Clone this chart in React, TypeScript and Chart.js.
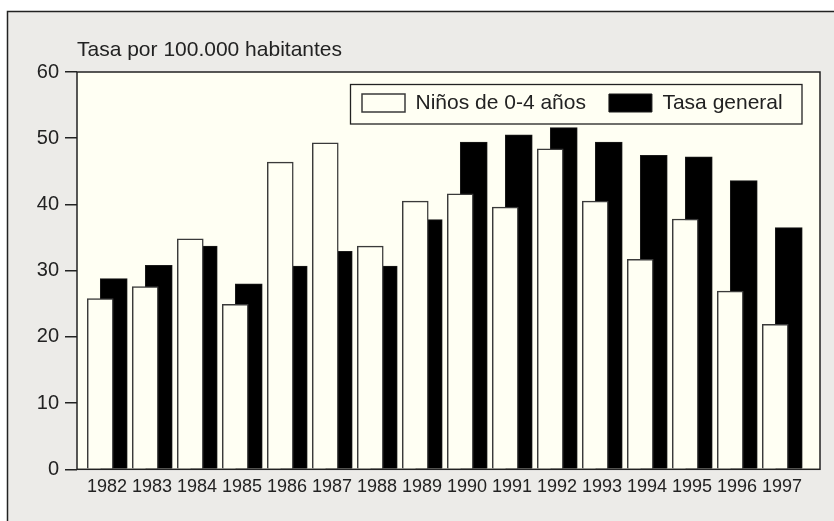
import React, { useEffect, useRef } from "react";
import { Chart, registerables } from "chart.js";

Chart.register(...registerables);

const years = ["1982", "1983", "1984", "1985", "1986", "1987", "1988", "1989", "1990", "1991", "1992", "1993", "1994", "1995", "1996", "1997"];
const ninos = [25.8, 27.6, 34.8, 24.9, 46.4, 49.3, 33.7, 40.5, 41.6, 39.6, 48.4, 40.5, 31.7, 37.8, 26.9, 21.9];
const tasaGeneral = [28.8, 30.8, 33.7, 28.0, 30.7, 32.9, 30.7, 37.7, 49.4, 50.5, 51.6, 49.4, 47.4, 47.2, 43.6, 36.5];
const yTicks = [0, 10, 20, 30, 40, 50, 60];
const titleText = "Tasa por 100.000 habitantes";
const seriesLabels = ["Niños de 0-4 años", "Tasa general"];

const FONT = "'Liberation Sans', Arial, Helvetica, sans-serif";
const TEXT = "#222222";
const FRAME_BG = "#ECEBE8";
const PLOT_BG = "#FFFFF3";

const backgroundPlugin = {
  id: "bgFrame",
  beforeDraw(chart: any) {
    const { ctx, width, height, chartArea } = chart;
    ctx.save();
    ctx.fillStyle = "#ffffff";
    ctx.fillRect(0, 0, width, height);
    ctx.fillStyle = FRAME_BG;
    ctx.fillRect(7.5, 11.5, width, height);
    ctx.strokeStyle = "#222";
    ctx.lineWidth = 1.5;
    ctx.beginPath();
    ctx.moveTo(7.5, height + 2);
    ctx.lineTo(7.5, 11.5);
    ctx.lineTo(width + 2, 11.5);
    ctx.stroke();
    ctx.fillStyle = PLOT_BG;
    ctx.fillRect(chartArea.left, chartArea.top, chartArea.right - chartArea.left, chartArea.bottom - chartArea.top);
    ctx.restore();
  },
  afterLayout(chart: any) {
    const lg = chart.legend;
    if (!lg) return;
    const pad = lg.options.labels.padding;
    lg.left = 362 - pad;
    lg.right = 830;
    lg.top = 94 - 1.5 - pad;
    lg.bottom = lg.top + 80;
    lg.width = lg.right - lg.left;
    lg.height = lg.bottom - lg.top;
  },
  afterDatasetsDraw(chart: any) {
    const { ctx, chartArea } = chart;
    ctx.save();
    ctx.strokeStyle = "#222";
    ctx.lineWidth = 1.5;
    ctx.strokeRect(chartArea.left, chartArea.top, chartArea.right - chartArea.left, chartArea.bottom - chartArea.top);
    ctx.lineWidth = 1.3;
    ctx.strokeRect(350.5, 84.5, 451.5, 39.5);
    ctx.restore();
  },
};

export default function App() {
  const ref = useRef<HTMLCanvasElement | null>(null);
  useEffect(() => {
    document.body.style.margin = "0";
    const canvas = ref.current;
    if (!canvas) return;
    const chart = new Chart(canvas, {
      type: "bar",
      data: {
        datasets: [
          {
            label: seriesLabels[0],
            data: ninos.map((v, i) => ({ x: i - 0.15, y: v })),
            backgroundColor: PLOT_BG,
            borderColor: "#3a3a3a",
            borderWidth: 1.5,
            barThickness: 26,
            grouped: false,
          },
          {
            label: seriesLabels[1],
            data: tasaGeneral.map((v, i) => ({ x: i + 0.15, y: v })),
            backgroundColor: "#000000",
            borderColor: "#1a1a1a",
            borderWidth: 1,
            barThickness: 27,
            grouped: false,
          },
        ],
      },
      options: {
        animation: false,
        responsive: false,
        devicePixelRatio: 1,
        layout: { padding: { top: 37.4, left: 0, right: 14, bottom: 16.7 } },
        scales: {
          x: {
            type: "linear",
            min: -0.667,
            max: 15.844,
            offset: false,
            afterBuildTicks: (scale: any) => {
              scale.ticks = years.map((_, i) => ({ value: i }));
            },
            ticks: {
              autoSkip: false,
              maxRotation: 0,
              minRotation: 0,
              padding: 6.7,
              color: TEXT,
              font: { family: FONT, size: 18 },
              callback: (value: any) => years[Math.round(Number(value))] ?? "",
            },
            grid: { display: false, drawTicks: false, tickLength: 0 },
            border: { display: false },
          },
          y: {
            min: 0,
            max: 60,
            afterBuildTicks: (scale: any) => {
              scale.ticks = yTicks.map((v) => ({ value: v }));
            },
            afterFit: (scale: any) => {
              scale.width = 77;
            },
            ticks: {
              padding: 6,
              color: TEXT,
              font: { family: FONT, size: 20 },
            },
            grid: {
              drawOnChartArea: false,
              drawTicks: true,
              tickLength: 12,
              color: "#222",
              lineWidth: 1.5,
            },
            border: { display: false },
          },
        },
        plugins: {
          title: {
            display: true,
            text: titleText,
            align: "start",
            fullSize: false,
            color: TEXT,
            font: { family: FONT, size: 21, weight: "normal", lineHeight: 1.2 },
            padding: { top: 0, bottom: 9.4 },
          },
          legend: {
            display: true,
            position: "top",
            align: "start",
            fullSize: false,
            maxHeight: 0.001,
            labels: {
              boxWidth: 43,
              boxHeight: 18,
              padding: 23,
              color: TEXT,
              font: { family: FONT, size: 21 },
            },
          },
          tooltip: { enabled: false },
        },
      },
      plugins: [backgroundPlugin],
    } as any);
    return () => chart.destroy();
  }, []);
  return <canvas ref={ref} width={834} height={521} style={{ display: "block" }} />;
}
